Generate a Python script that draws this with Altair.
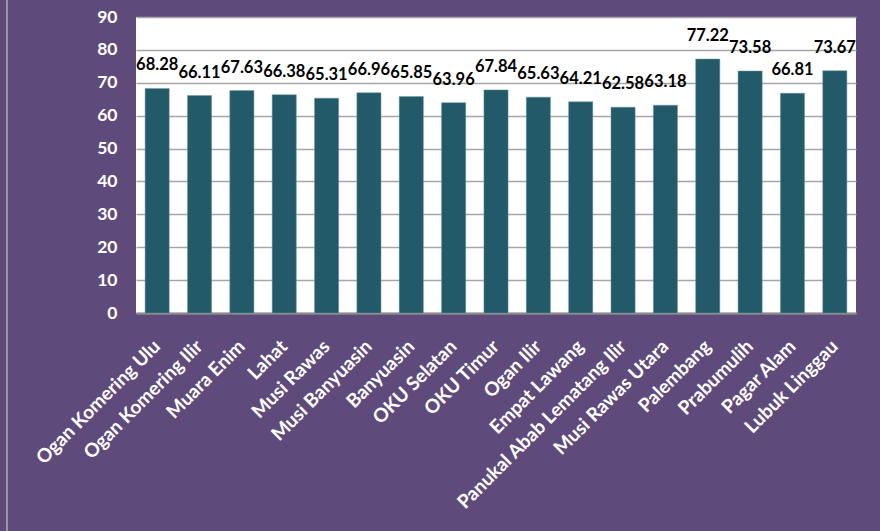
import altair as alt
import pandas as pd

regions = ["Ogan Komering Ulu", "Ogan Komering Ilir", "Muara Enim", "Lahat", "Musi Rawas",
           "Musi Banyuasin", "Banyuasin", "OKU Selatan", "OKU Timur", "Ogan Ilir",
           "Empat Lawang", "Panukal Abab Lematang Ilir", "Musi Rawas Utara", "Palembang",
           "Prabumulih", "Pagar Alam", "Lubuk Linggau"]
values = [68.28, 66.11, 67.63, 66.38, 65.31, 66.96, 65.85, 63.96, 67.84, 65.63,
          64.21, 62.58, 63.18, 77.22, 73.58, 66.81, 73.67]
y_ticks = [0, 10, 20, 30, 40, 50, 60, 70, 80, 90]

df = pd.DataFrame({"region": regions, "value": values})
df["label"] = [f"{v:.2f}" for v in values]

FONT = "Lato"

x = alt.X("region:N", sort=regions, title=None,
          scale=alt.Scale(paddingInner=0.43, paddingOuter=0.215),
          axis=alt.Axis(labelAngle=-45, labelAlign="right", labelBaseline="middle",
                        labelColor="white", labelFont=FONT, labelFontWeight="bold",
                        labelFontSize=19, labelPadding=30, ticks=False,
                        domainColor="#8C8C8C", domainWidth=2, grid=False,
                        labelOverlap=False, labelLimit=400))
y = alt.Y("value:Q", title=None,
          scale=alt.Scale(domain=[0, 90], nice=False),
          axis=alt.Axis(values=y_ticks, tickCount=10, labelColor="white", labelFont=FONT,
                        labelFontWeight="bold", labelFontSize=17.5, labelPadding=19,
                        labelOverlap=False, labelFlush=False,
                        ticks=False, domain=False, grid=True, gridColor="#A6A6A6",
                        gridWidth=1.5))

base = alt.Chart(df).encode(x=x, y=y)
bars = base.mark_bar(color="#225A69", stroke="#6F97A0", strokeWidth=0.5)
labels = base.mark_text(font=FONT, fontWeight="bold", fontSize=16.5, color="black",
                        baseline="bottom", dy=-15).encode(text="label:N")
border = alt.Chart(df).mark_rule(color="#9A9A9A", strokeWidth=2, clip=False).encode(
    x=alt.value(-129), y=alt.value(-17), y2=alt.value(520))

chart = alt.layer(bars, labels, border).properties(
    width=720, height=296,
    autosize=alt.AutoSizeParams(type="none"),
    padding={"left": 136, "top": 17, "right": 24, "bottom": 218},
    background="#5F4B7B",
).configure_view(fill="white", stroke=None)

chart.save("out.html", embed_options={"renderer": "svg", "actions": False})
